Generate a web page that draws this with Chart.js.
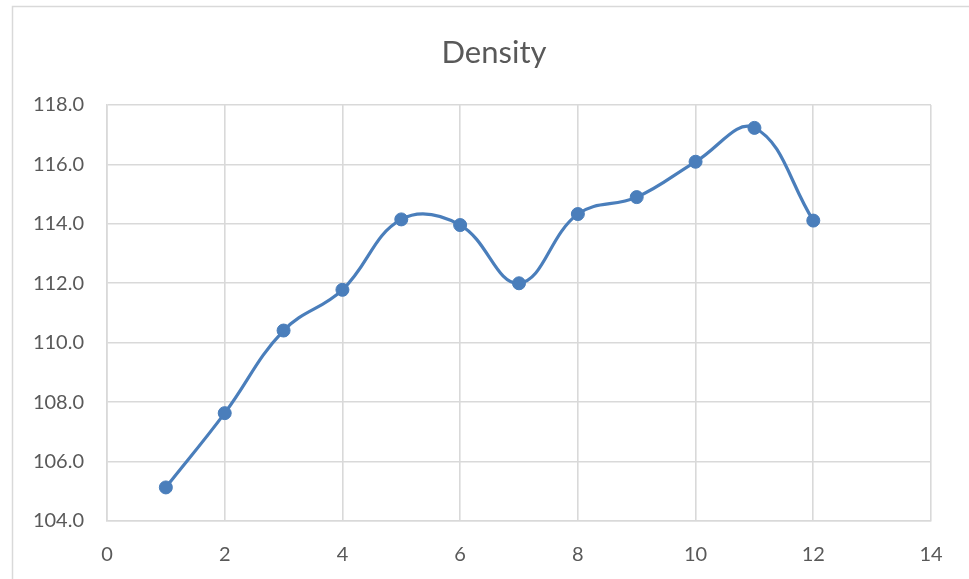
<!DOCTYPE html>
<html>
<head>
<meta charset="utf-8">
<script src="https://cdn.jsdelivr.net/npm/chart.js@4/dist/chart.umd.min.js"></script>
<style>
  html, body { margin: 0; padding: 0; background: #fff; }
  #wrap { position: relative; width: 969px; height: 579px; }
</style>
</head>
<body>
<div id="wrap"><canvas id="c" width="969" height="579"></canvas></div>
<script>
const chartTitle = "Density";
const xValues = [1, 2, 3, 4, 5, 6, 7, 8, 9, 10, 11, 12];
const densityValues = [105.13, 107.63, 110.41, 111.78, 114.15, 113.96, 112.0, 114.33, 114.9, 116.09, 117.23, 114.11];
const xTicks = [0, 2, 4, 6, 8, 10, 12, 14];
const yTicks = [104, 106, 108, 110, 112, 114, 116, 118];

const points = xValues.map((x, i) => ({ x: x, y: densityValues[i] }));

const gridColor = '#d9d9d9';
const textColor = '#595959';
const fontFamily = 'Lato, "Open Sans", sans-serif';

const frame = {
  id: 'frame',
  beforeDraw(chart) {
    const ctx = chart.ctx;
    ctx.save();
    ctx.fillStyle = '#ffffff';
    ctx.fillRect(0, 0, chart.width, chart.height);
    ctx.strokeStyle = gridColor;
    ctx.lineWidth = 1.5;
    ctx.strokeRect(12.5, 6.5, 1000, 700);
    ctx.fillStyle = textColor;
    ctx.font = '31px ' + fontFamily;
    ctx.textAlign = 'center';
    ctx.textBaseline = 'middle';
    ctx.fillText(chartTitle, 494, 53);
    ctx.restore();
  }
};

new Chart(document.getElementById('c'), {
  type: 'scatter',
  data: {
    datasets: [{
      label: chartTitle,
      data: points,
      showLine: true,
      borderColor: '#4a7ebb',
      backgroundColor: '#4a7ebb',
      borderWidth: 3.2,
      pointRadius: 6.5,
      pointBorderWidth: 1,
      pointHoverRadius: 6.5,
      tension: 0.4,
      cubicInterpolationMode: 'default'
    }]
  },
  options: {
    responsive: false,
    animation: false,
    devicePixelRatio: 1,
    layout: { padding: { left: 0, right: 38, top: 105, bottom: 0 } },
    plugins: {
      legend: { display: false },
      tooltip: { enabled: false },
      title: { display: false }
    },
    scales: {
      x: {
        type: 'linear',
        min: 0,
        max: 14,
        afterBuildTicks(axis) { axis.ticks = xTicks.map(v => ({ value: v })); },
        afterFit(axis) { axis.height = 58; },
        grid: { color: gridColor, lineWidth: 1.6, drawTicks: false },
        border: { color: gridColor, width: 1.6 },
        ticks: {
          color: textColor,
          font: { family: fontFamily, size: 20 },
          padding: 22,
          callback: v => String(v)
        }
      },
      y: {
        type: 'linear',
        min: 104,
        max: 118,
        afterBuildTicks(axis) { axis.ticks = yTicks.map(v => ({ value: v })); },
        afterFit(axis) { axis.width = 107; },
        grid: { color: gridColor, lineWidth: 1.6, drawTicks: false },
        border: { color: gridColor, width: 1.6 },
        ticks: {
          color: textColor,
          font: { family: fontFamily, size: 20 },
          padding: 23,
          callback: v => Number(v).toFixed(1)
        }
      }
    }
  },
  plugins: [frame]
});
</script>
</body>
</html>
